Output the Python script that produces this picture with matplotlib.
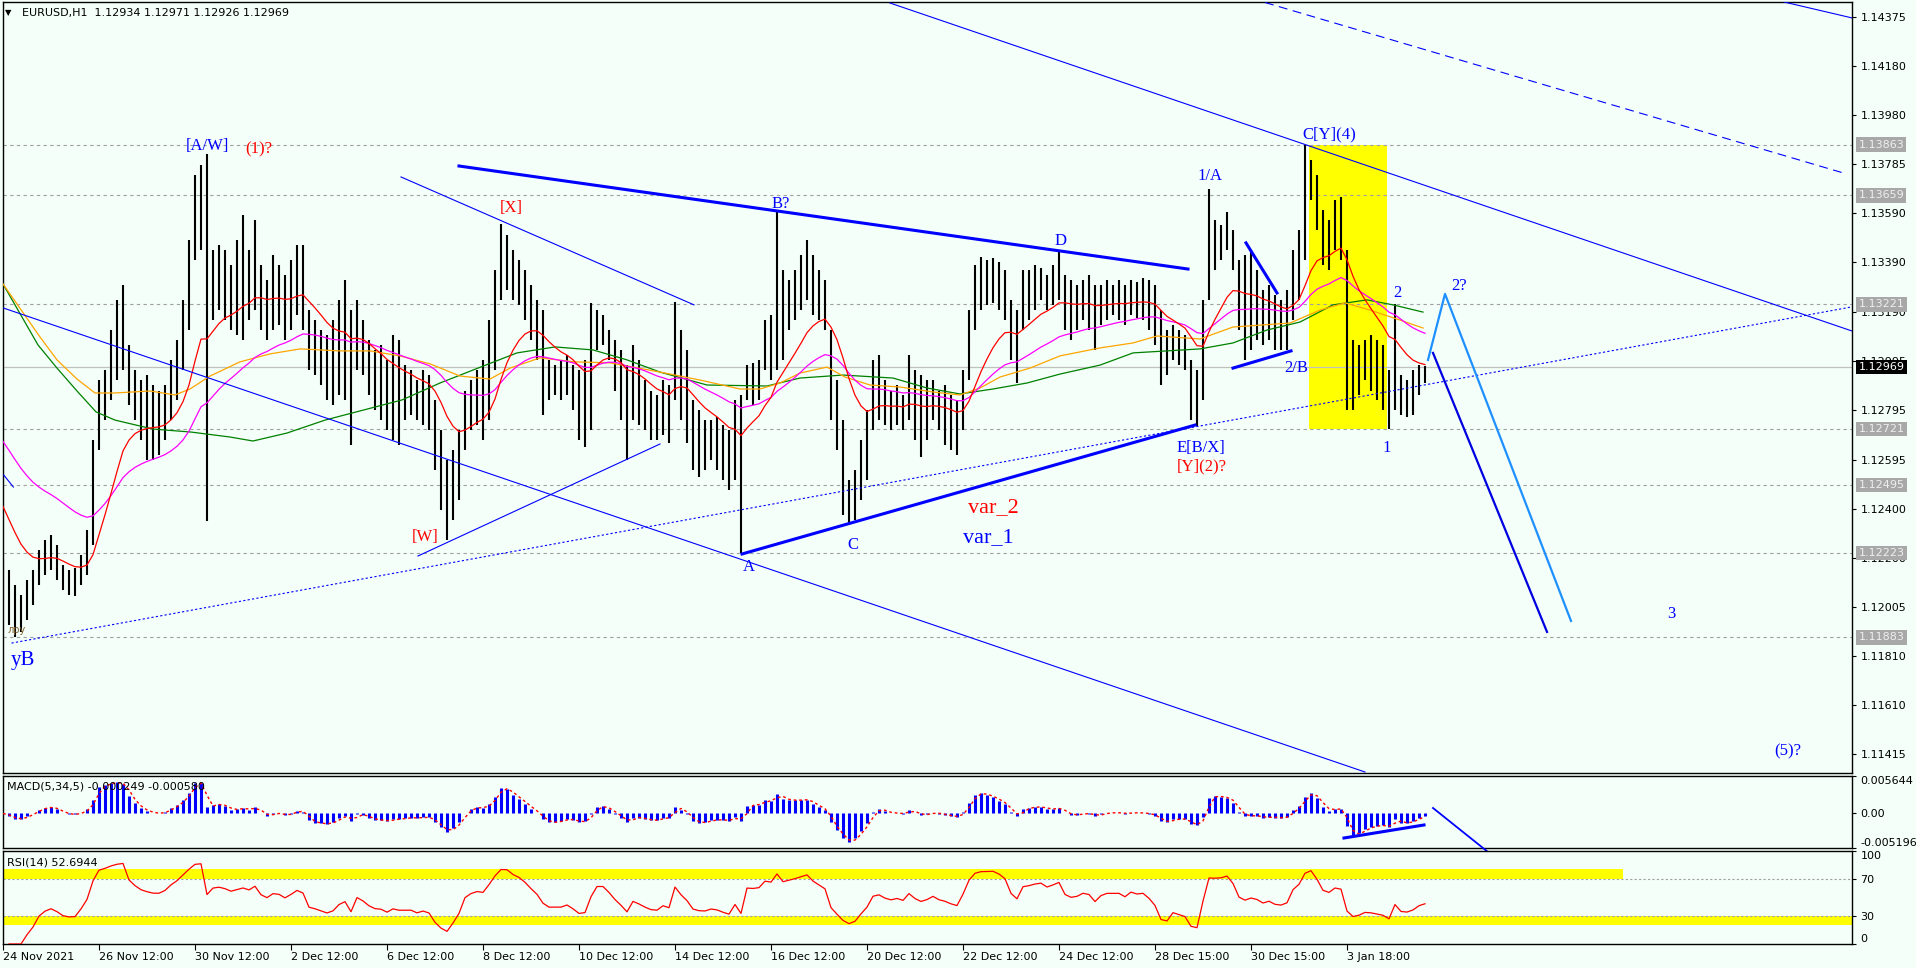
import numpy as np
import pandas as pd
import matplotlib
matplotlib.use("Agg")
import matplotlib.pyplot as plt
from matplotlib.patches import Rectangle
import matplotlib.transforms as mtransforms

# ============================================================
# DADOS - BARRAS (uma barra a cada 3 horas, eixo x em horas H1)
# ============================================================

bar_step = 3

bar_high = [
    1.12194, 1.12154, 1.12093, 1.12053, 1.12114, 1.12154, 1.12234, 1.12274, 1.12294, 1.12254,
    1.12174, 1.12154, 1.12162, 1.12214, 1.12315, 1.12676, 1.12916, 1.12957, 1.13118, 1.13239,
    1.13299, 1.13058, 1.12957, 1.12916, 1.12937, 1.12897, 1.12874, 1.12897, 1.12998, 1.13078,
    1.13239, 1.13480, 1.13741, 1.13781, 1.13825, 1.13440, 1.13460, 1.13440, 1.13379, 1.13480,
    1.13580, 1.13440, 1.13560, 1.13379, 1.13319, 1.13419, 1.13379, 1.13339, 1.13399, 1.13460,
    1.13460, 1.13198, 1.13158, 1.13118, 1.13098, 1.13158, 1.13239, 1.13319, 1.13198, 1.13239,
    1.13158, 1.13078, 1.13038, 1.13058, 1.12998, 1.13098, 1.13078, 1.12977, 1.12957, 1.12916,
    1.12957, 1.12937, 1.12837, 1.12716, 1.12596, 1.12636, 1.12716, 1.12874, 1.12916, 1.12957,
    1.12998, 1.13158, 1.13359, 1.13544, 1.13500, 1.13440, 1.13399, 1.13359, 1.13299, 1.13239,
    1.13198, 1.12998, 1.12977, 1.12998, 1.13018, 1.12977, 1.12957, 1.12998, 1.13226, 1.13198,
    1.13178, 1.13118, 1.13078, 1.13038, 1.12977, 1.13058, 1.12998, 1.12916, 1.12874, 1.12857,
    1.12916, 1.12897, 1.13230, 1.13118, 1.13038, 1.12837, 1.12797, 1.12756, 1.12756, 1.12768,
    1.12736, 1.12716, 1.12837, 1.12857, 1.12977, 1.12986, 1.12998, 1.13158, 1.13178, 1.13592,
    1.13359, 1.13319, 1.13359, 1.13419, 1.13480, 1.13419, 1.13359, 1.13319, 1.13118, 1.12916,
    1.12756, 1.12515, 1.12556, 1.12676, 1.12797, 1.12998, 1.13018, 1.12916, 1.12874, 1.12897,
    1.12857, 1.13018, 1.12957, 1.12937, 1.12916, 1.12916, 1.12874, 1.12897, 1.12857, 1.12837,
    1.12957, 1.13198, 1.13379, 1.13411, 1.13399, 1.13407, 1.13391, 1.13359, 1.13239, 1.13198,
    1.13359, 1.13359, 1.13379, 1.13367, 1.13339, 1.13379, 1.13431, 1.13339, 1.13319, 1.13299,
    1.13319, 1.13339, 1.13299, 1.13299, 1.13319, 1.13299, 1.13319, 1.13299, 1.13319, 1.13311,
    1.13327, 1.13319, 1.13299, 1.13198, 1.13118, 1.13138, 1.13118, 1.13098, 1.12998, 1.12957,
    1.13239, 1.13685, 1.13560, 1.13540, 1.13592, 1.13520, 1.13399, 1.13419, 1.13440, 1.13359,
    1.13279, 1.13299, 1.13259, 1.13239, 1.13279, 1.13440, 1.13520, 1.13863, 1.13801, 1.13741,
    1.13600, 1.13560, 1.13640, 1.13652, 1.13440, 1.13078, 1.13058, 1.13078, 1.13098, 1.13078,
    1.13058, 1.12957, 1.13221, 1.12937, 1.12916, 1.12957, 1.12977, 1.12975,
]

bar_low = [
    1.12033, 1.11933, 1.11883, 1.11905, 1.11953, 1.12013, 1.12093, 1.12134, 1.12154, 1.12114,
    1.12073, 1.12053, 1.12049, 1.12093, 1.12134, 1.12254, 1.12636, 1.12756, 1.12837, 1.12916,
    1.12957, 1.12817, 1.12756, 1.12676, 1.12596, 1.12596, 1.12616, 1.12676, 1.12756, 1.12837,
    1.12957, 1.13118, 1.13399, 1.13440, 1.12351, 1.13158, 1.13198, 1.13158, 1.13118, 1.13098,
    1.13078, 1.13158, 1.13198, 1.13118, 1.13078, 1.13118, 1.13138, 1.13078, 1.13118, 1.13178,
    1.13118, 1.12957, 1.12937, 1.12897, 1.12837, 1.12817, 1.12857, 1.12837, 1.12656, 1.12957,
    1.12937, 1.12857, 1.12797, 1.12756, 1.12716, 1.12676, 1.12656, 1.12756, 1.12777, 1.12756,
    1.12736, 1.12716, 1.12556, 1.12395, 1.12274, 1.12355, 1.12435, 1.12636, 1.12716, 1.12736,
    1.12676, 1.12756, 1.12957, 1.13239, 1.13279, 1.13239, 1.13219, 1.13158, 1.13078, 1.12998,
    1.12777, 1.12837, 1.12857, 1.12837, 1.12857, 1.12797, 1.12676, 1.12648, 1.12716, 1.13038,
    1.13058, 1.12998, 1.12874, 1.12756, 1.12596, 1.12756, 1.12736, 1.12716, 1.12676, 1.12676,
    1.12696, 1.12664, 1.12837, 1.12756, 1.12664, 1.12556, 1.12527, 1.12556, 1.12596, 1.12556,
    1.12515, 1.12475, 1.12515, 1.12222, 1.12837, 1.12817, 1.12837, 1.12957, 1.12916, 1.12957,
    1.12998, 1.13118, 1.13158, 1.13198, 1.13239, 1.13178, 1.13158, 1.13118, 1.12756, 1.12636,
    1.12375, 1.12335, 1.12355, 1.12435, 1.12515, 1.12716, 1.12756, 1.12736, 1.12716, 1.12736,
    1.12716, 1.12756, 1.12676, 1.12608, 1.12676, 1.12756, 1.12716, 1.12656, 1.12636, 1.12616,
    1.12716, 1.12916, 1.13118, 1.13198, 1.13219, 1.13226, 1.13198, 1.13158, 1.12998, 1.12905,
    1.13118, 1.13158, 1.13198, 1.13239, 1.13198, 1.13219, 1.13239, 1.13118, 1.13078, 1.13118,
    1.13158, 1.13118, 1.13038, 1.13138, 1.13158, 1.13178, 1.13158, 1.13138, 1.13178, 1.13166,
    1.13158, 1.13118, 1.13058, 1.12897, 1.12937, 1.12998, 1.12977, 1.12957, 1.12756, 1.12732,
    1.12837, 1.13239, 1.13359, 1.13399, 1.13440, 1.13359, 1.13118, 1.12998, 1.13038, 1.13078,
    1.13058, 1.13078, 1.13038, 1.13038, 1.13038, 1.13158, 1.13239, 1.13399, 1.13640, 1.13520,
    1.13379, 1.13359, 1.13440, 1.13399, 1.12797, 1.12797, 1.12857, 1.12916, 1.12874, 1.12837,
    1.12797, 1.12721, 1.12797, 1.12777, 1.12768, 1.12777, 1.12857, 1.12905,
]

# ============================================================
# MEDIAS MOVEIS LENTAS
# ============================================================

orange_x = [0, 18.5, 27, 37, 46, 56, 73.5, 86, 93.5, 103.5, 118.5, 133.5, 148.5, 168.5, 183.5,
            198.5, 213.5, 228.5, 243.5, 253.5, 268.5, 286, 303.5, 328.5, 348.5, 368.5, 378.5,
            388.5, 398.5, 412, 421, 433.5, 448.5, 465, 478.5, 488.5, 498.5, 513.5, 528.5, 548.5,
            565, 577, 598.5, 615, 643.5, 658.5, 671, 683.5, 698.5, 710]
orange_y = [1.13303, 1.13090, 1.12998, 1.12921, 1.12865, 1.12865, 1.12873, 1.12857, 1.12881,
            1.12933, 1.12990, 1.13022, 1.13042, 1.13034, 1.13034, 1.13014, 1.12982, 1.12933,
            1.12921, 1.12965, 1.13006, 1.12990, 1.12986, 1.12949, 1.12917, 1.12881, 1.12881,
            1.12905, 1.12945, 1.12969, 1.12929, 1.12897, 1.12889, 1.12869, 1.12857, 1.12885,
            1.12929, 1.12965, 1.13014, 1.13046, 1.13066, 1.13094, 1.13082, 1.13130, 1.13146,
            1.13198, 1.13227, 1.13198, 1.13158, 1.13126]

green_x = [0, 17.5, 27, 37, 46.5, 56, 75, 94, 113.5, 125, 142, 161, 180.5, 199.5, 218.5, 237.5,
           257, 276, 295, 312, 328.5, 352, 382, 398.5, 420, 445, 462, 478.5, 495, 512, 528.5,
           548.5, 565, 598.5, 615, 632, 648.5, 665, 682, 695, 710]
green_y = [1.13303, 1.13058, 1.12965, 1.12873, 1.12789, 1.12756, 1.12720, 1.12708, 1.12688,
           1.12672, 1.12704, 1.12756, 1.12797, 1.12837, 1.12905, 1.12965, 1.13026, 1.13050,
           1.13038, 1.12998, 1.12949, 1.12897, 1.12893, 1.12925, 1.12937, 1.12925, 1.12885,
           1.12861, 1.12881, 1.12905, 1.12941, 1.12977, 1.13026, 1.13042, 1.13066, 1.13118,
           1.13150, 1.13219, 1.13239, 1.13219, 1.13190]

# valores iniciais das medias rapidas (lidos no inicio do grafico)
red_seed = 1.12458
magenta_seed = 1.12704

# ============================================================
# NIVEIS E EIXOS
# ============================================================

price_ticks = [1.14375, 1.14180, 1.13980, 1.13785, 1.13590, 1.13390, 1.13190, 1.12995,
               1.12795, 1.12595, 1.12400, 1.12200, 1.12005, 1.11810, 1.11610, 1.11415]
levels = [1.13863, 1.13659, 1.13221, 1.12721, 1.12495, 1.12223, 1.11883]
last_price = 1.12969

time_ticks = [0, 48, 96, 144, 192, 240, 288, 336, 384, 432, 480, 528, 576, 624, 672]
time_labels = ["24 Nov 2021", "26 Nov 12:00", "30 Nov 12:00", "2 Dec 12:00", "6 Dec 12:00",
               "8 Dec 12:00", "10 Dec 12:00", "14 Dec 12:00", "16 Dec 12:00", "20 Dec 12:00",
               "22 Dec 12:00", "24 Dec 12:00", "28 Dec 15:00", "30 Dec 15:00", "3 Jan 18:00"]

# ============================================================
# LINHAS DESENHADAS (x em horas, y em preco)
# ============================================================

thin_lines = [
    ([-1.5, 681], [1.13211, 1.11342]),
    ([443.5, 924.5], [1.14432, 1.13114]),
    ([890.5, 924.5], [1.14436, 1.14372]),
    ([207.5, 328.5], [1.12210, 1.12660]),
    ([199, 345.5], [1.13733, 1.13219]),
    ([0.4, 5.2], [1.12535, 1.12487]),
]
dashed_line = ([631, 921], [1.14434, 1.13747])
dotted_line = ([4.25, 924.5], [1.11860, 1.13211])
thick_lines = [
    ([228, 592.5], [1.13777, 1.13363]),
    ([369.5, 596], [1.12218, 1.12736]),
    ([621.5, 637], [1.13468, 1.13267]),
    ([615, 644], [1.12965, 1.13034]),
]
forecast_dark = ([715, 772], [1.13026, 1.11905])
forecast_light = ([712.5, 721, 784], [1.12998, 1.13263, 1.11949])

box_x = [653, 692]
box_y = [1.12721, 1.13863]

macd_trend = ([670.5, 710.5], [-0.00369, -0.00173])
macd_arrow = ([715, 742.5], [0.000826, -0.005798])

# ============================================================
# ROTULOS DAS ONDAS
# ============================================================

wave_text = ["[A/W]", "(1)?", "[X]", "[W]", "yB", "B?", "D", "A", "C", "var_2", "var_1",
             "1/A", "E[B/X]", "[Y](2)?", "C[Y](4)", "2/B", "2", "1", "2?", "3", "(5)?"]
wave_x = [102, 128, 254, 211, 10, 389, 529, 373, 425, 495, 492.5,
          603.5, 599, 599.5, 663, 646.5, 697, 692, 728, 834, 892.5]
wave_y = [1.13857, 1.13845, 1.13608, 1.12286, 1.11792, 1.13624, 1.13476, 1.12166, 1.12255,
          1.12403, 1.12283, 1.13737, 1.12644, 1.12571, 1.13905, 1.12966, 1.13267, 1.12644,
          1.13295, 1.11977, 1.11423]
wave_color = ["blue", "red", "red", "red", "blue", "blue", "blue", "blue", "blue", "red", "blue",
              "blue", "blue", "red", "blue", "blue", "blue", "blue", "blue", "blue", "blue"]
wave_size = [12, 12, 12, 12, 15, 12, 12, 12, 12, 16, 16,
             12, 12, 12, 12, 12, 12, 12, 12, 12, 12]

# ============================================================
# INDICADORES
# ============================================================

high = np.array(bar_high)
low = np.array(bar_low)
bar_x = np.arange(len(high)) * bar_step
median = pd.Series((high + low) / 2)


def ema_seeded(values, span, seed):
    alpha = 2.0 / (span + 1.0)
    out = []
    v = seed
    for p in values:
        v = v + alpha * (p - v)
        out.append(v)
    return np.array(out)


red_ma = ema_seeded(median, 13, red_seed)
magenta_ma = ema_seeded(median, 34, magenta_seed)

fast = median.ewm(span=5 / bar_step, adjust=False).mean()
slow = median.ewm(span=34 / bar_step, adjust=False).mean()
macd = fast - slow
signal = macd.rolling(2, min_periods=1).mean()

delta = median.diff()
gain = delta.clip(lower=0).ewm(alpha=1 / 9, adjust=False).mean()
loss = (-delta.clip(upper=0)).ewm(alpha=1 / 9, adjust=False).mean()
rsi = 100 - 100 / (1 + gain / loss)

# ============================================================
# FIGURA
# ============================================================

bg = "#f3fff8"
W, H = 1916, 968
fig = plt.figure(figsize=(W / 100, H / 100), dpi=100, facecolor=bg)


def px_axes(x0, y0, x1, y1):
    ax = fig.add_axes([x0 / W, 1 - y1 / H, (x1 - x0) / W, (y1 - y0) / H])
    ax.set_facecolor(bg)
    for s in ax.spines.values():
        s.set_color("black")
        s.set_linewidth(1.0)
    ax.set_xlim(-0.25, 924.5)
    return ax


ax = px_axes(2.5, 1.5, 1852, 773)
ax_macd = px_axes(2.5, 776, 1852, 848)
ax_rsi = px_axes(2.5, 851, 1852, 944)

# ------------------------------------------------------------
# PAINEL PRINCIPAL
# ------------------------------------------------------------

ax.set_ylim(1.11338, 1.14438)
ax.set_xticks([])
ax.yaxis.tick_right()
ax.set_yticks(price_ticks)
ax.set_yticklabels([f"{p:.5f}" for p in price_ticks])
ax.tick_params(axis="y", direction="out", length=3, width=0.8, pad=3, labelsize=8)

ax.add_patch(Rectangle((box_x[0], box_y[0]), box_x[1] - box_x[0], box_y[1] - box_y[0],
                       facecolor="#ffff00", edgecolor="none", zorder=0.5))

for lv in levels:
    ax.axhline(lv, color="#a0a0a0", lw=0.8, ls=(0, (3, 3)), zorder=1)
ax.axhline(last_price, color="#c0c0c0", lw=0.9, zorder=1)

ax.vlines(bar_x, low, high, color="black", lw=1.5, zorder=2)

ax.plot(green_x, green_y, color="#008000", lw=0.9, zorder=3)
ax.plot(orange_x, orange_y, color="#ffa500", lw=0.9, zorder=3)
ax.plot(bar_x, magenta_ma, color="#ff00ff", lw=0.9, zorder=3)
ax.plot(bar_x, red_ma, color="#ff0000", lw=0.9, zorder=3)

for xs, ys in thin_lines:
    ax.plot(xs, ys, color="#0000ff", lw=0.8, zorder=4)
ax.plot(*dashed_line, color="#0000ff", lw=0.8, ls=(0, (8, 5)), zorder=4)
ax.plot(*dotted_line, color="#0000ff", lw=0.8, ls=(0, (2, 2)), zorder=4)
for xs, ys in thick_lines:
    ax.plot(xs, ys, color="#0000ff", lw=2.2, zorder=4)
ax.plot(*forecast_dark, color="#0000e0", lw=1.6, zorder=4)
ax.plot(*forecast_light, color="#1e90ff", lw=1.6, zorder=4)

for t, x, y, c, s in zip(wave_text, wave_x, wave_y, wave_color, wave_size):
    ax.text(x, y, t, color=c, fontsize=s, family="Liberation Serif",
            ha="center", va="center", zorder=5)

ax.text(7, 1.11913, "лру", color="#806030", fontsize=7, ha="center", va="center", zorder=5)

# rotulos dos niveis no eixo de precos
trans = mtransforms.blended_transform_factory(ax.transAxes, ax.transData)
for lv in levels:
    ax.text(1.0035, lv, f"{lv:.5f}", transform=trans, fontsize=8, color="#eeeeee",
            ha="left", va="center", clip_on=False, zorder=10,
            bbox=dict(facecolor="#a8a8a8", edgecolor="none", pad=1.6))
ax.text(1.0035, last_price, f"{last_price:.5f}", transform=trans, fontsize=8, color="white",
        ha="left", va="center", clip_on=False, zorder=10,
        bbox=dict(facecolor="black", edgecolor="none", pad=1.6))

fig.text(8 / W, 1 - 13 / H, "▼", fontsize=6, ha="center", va="center")
fig.text(22 / W, 1 - 13 / H, "EURUSD,H1  1.12934 1.12971 1.12926 1.12969",
         fontsize=8, ha="left", va="center")

# ------------------------------------------------------------
# MACD
# ------------------------------------------------------------

ax_macd.set_ylim(-0.005196, 0.005644)
ax_macd.set_xticks([])
ax_macd.yaxis.tick_right()
ax_macd.set_yticks([0.005644, 0.0, -0.005196])
ax_macd.set_yticklabels(["0.005644", "0.00", "-0.005196"])
ax_macd.tick_params(axis="y", direction="out", length=3, width=0.8, pad=3, labelsize=8)
lbls = ax_macd.get_yticklabels()
lbls[0].set_verticalalignment("top")
lbls[2].set_verticalalignment("bottom")

ax_macd.vlines(bar_x, 0, macd, color="#0000ff", lw=2.2, zorder=2)
ax_macd.plot(bar_x, signal, color="#ff0000", lw=1.0, ls=(0, (2, 2)), zorder=3)
ax_macd.plot(*macd_trend, color="#0000ff", lw=2.2, zorder=4)
ax_macd.plot(*macd_arrow, color="#0000ff", lw=1.3, zorder=4, clip_on=False)
ax_macd.text(0.0025, 0.86, "MACD(5,34,5) -0.000249 -0.000580", transform=ax_macd.transAxes,
             fontsize=8, ha="left", va="center", zorder=5)

# ------------------------------------------------------------
# RSI
# ------------------------------------------------------------

ax_rsi.set_ylim(0, 100)
ax_rsi.yaxis.tick_right()
ax_rsi.set_yticks([100, 70, 30, 0])
ax_rsi.set_yticklabels(["100", "70", "30", "0"])
ax_rsi.tick_params(axis="y", direction="out", length=3, width=0.8, pad=3, labelsize=8)
lbls = ax_rsi.get_yticklabels()
lbls[0].set_verticalalignment("top")
lbls[3].set_verticalalignment("bottom")

ax_rsi.fill_between([-0.25, 810], 70, 80.6, color="#ffff00", lw=0, zorder=0.5)
ax_rsi.fill_between([-0.25, 924.5], 20.7, 30, color="#ffff00", lw=0, zorder=0.5)
ax_rsi.axhline(70, color="#a0a0a0", lw=0.8, ls=(0, (2, 2)), zorder=1)
ax_rsi.axhline(30, color="#a0a0a0", lw=0.8, ls=(0, (2, 2)), zorder=1)
ax_rsi.plot(bar_x, rsi, color="#ff0000", lw=0.9, zorder=3)
ax_rsi.text(0.0025, 0.88, "RSI(14) 52.6944", transform=ax_rsi.transAxes,
            fontsize=8, ha="left", va="center", zorder=5)

ax_rsi.set_xticks(time_ticks)
ax_rsi.set_xticklabels(time_labels, ha="left")
ax_rsi.tick_params(axis="x", direction="out", length=4, width=0.8, pad=2, labelsize=8)

fig.savefig("out.png", dpi=100, facecolor=bg)
